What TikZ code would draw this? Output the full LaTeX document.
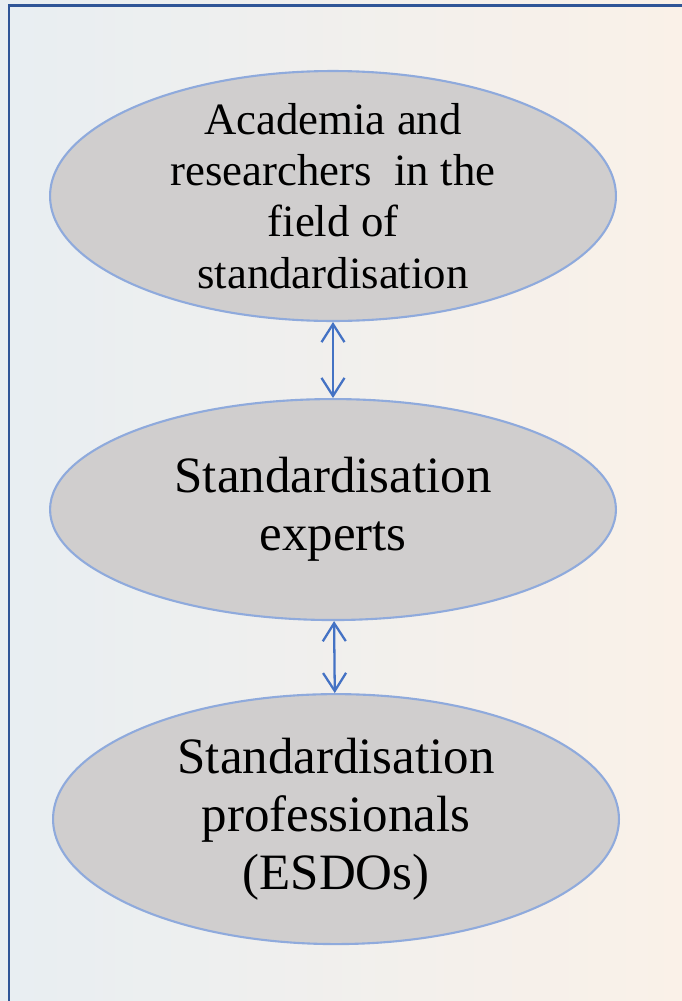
\documentclass[tikz,border=0pt]{standalone}
\usepackage{fontspec}
\setmainfont{Liberation Serif}
\usetikzlibrary{positioning,arrows.meta,shapes.geometric}
\definecolor{framecol}{HTML}{2F5597}
\definecolor{rimcol}{HTML}{8FAADC}
\definecolor{linkcol}{HTML}{4472C4}
\definecolor{groupfill}{HTML}{D0CECE}
\tikzset{
	>={Straight Barb[length=3.6mm,width=4.6mm]}
}

\begin{document}
\begin{tikzpicture}[
x = 0.02cm,
y = -0.02cm,
group/.style = {
	ellipse,
	draw = rimcol,
	line width = 1.2pt,
	fill = groupfill,
	align = center,
	inner xsep = 0pt,
	inner ysep = -0.5cm,
	minimum width = 11.32cm
},
small/.style = {
	font = \fontsize{25.5}{29.2}\selectfont
},
big/.style = {
	font = \fontsize{29}{32.9}\selectfont
},
link/.style = {
	<->,
	draw = linkcol,
	line width = 1.3pt
}
]

\useasboundingbox (0,0) rectangle (682,1001);
\clip (0,0) rectangle (682,1001);
\shade[left color = {rgb,255:red,232;green,238;blue,242}, middle color = {rgb,255:red,246;green,246;blue,245}, right color = {rgb,255:red,250;green,241;blue,232}] (0,0) rectangle (682,1001);
\draw[framecol, line width = 1.6pt] (9,5.5) rectangle (720,1040);

\node (academia) [group, small, minimum height = 5cm] at (333,196) {Academia and\\researchers \ in the\\field of\\standardisation};
\node (experts) [group, big, minimum height = 4.42cm, below = 1.52cm of academia] {Standardisation\\experts};
\node (professionals) [group, big, minimum height = 5cm, below = 1.44cm of experts, xshift = 0.06cm] {Standardisation\\professionals\\(ESDOs)};

\draw[link] (academia) -- (experts);
\draw[link] (experts) -- (professionals);

\end{tikzpicture}
\end{document}
